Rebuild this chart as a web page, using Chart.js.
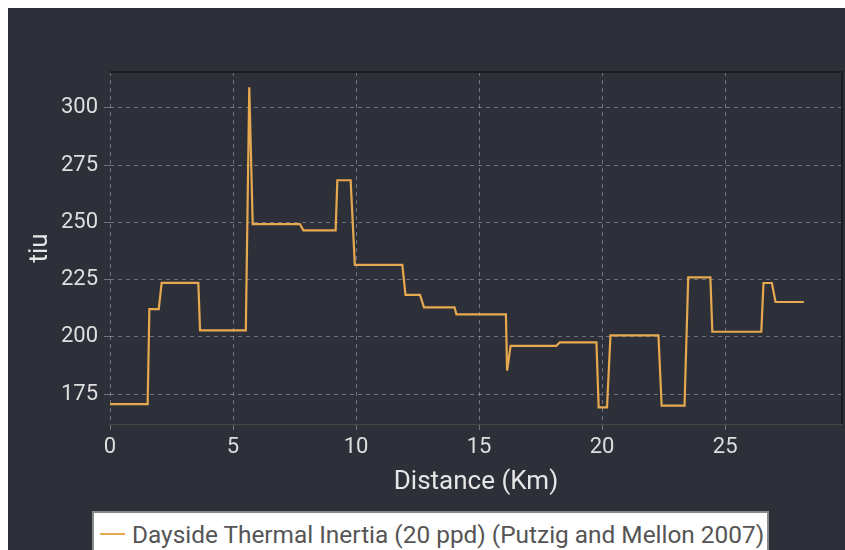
<!DOCTYPE html>
<html>
<head>
<meta charset="utf-8">
<script src="https://cdn.jsdelivr.net/npm/chart.js@4"></script>
<style>
  html, body { margin: 0; padding: 0; background: #ffffff; overflow: hidden; }
  #wrap { position: absolute; left: 8px; top: 8px; width: 837px; height: 542px; background: #2e3039; }
  #chart { position: absolute; left: 0; top: 0; }
  #legend {
    position: absolute; left: 84px; top: 503px; width: 677px; height: 50px;
    background: #ffffff; border: 2px solid #8a8a8a; box-sizing: border-box;
    font-family: Roboto, sans-serif; font-size: 24.4px; line-height: 28px; color: #555555;
    display: flex; align-items: flex-start; padding: 8px 0 0 6px; white-space: nowrap;
  }
  #legend .swatch { display: inline-block; width: 25px; height: 2px; margin: 12px 7px 0 0; }
</style>
</head>
<body>
<div id="wrap">
  <canvas id="chart" width="837" height="542"></canvas>
  <div id="legend"></div>
</div>
<script>
// Thermal inertia profile along the track
const distanceKm = [0, 1.53, 1.60, 1.98, 2.10, 3.59, 3.66, 5.52, 5.66, 5.80, 7.72, 7.86, 9.17, 9.24,
  9.78, 9.95, 11.88, 12.01, 12.60, 12.76, 14.00, 14.08, 16.09, 16.14, 16.28, 18.14, 18.28, 19.77,
  19.86, 20.20, 20.34, 22.29, 22.42, 23.35, 23.50, 24.40, 24.48, 26.47, 26.56, 26.90, 27.05, 28.20];
const thermalInertia = [170.6, 170.6, 212.1, 212.1, 223.6, 223.6, 202.8, 202.8, 309.0, 249.2, 249.2, 246.5, 246.5, 268.4,
  268.4, 231.4, 231.4, 218.3, 218.3, 212.9, 212.9, 209.8, 209.8, 185.2, 196.0, 196.0, 197.6, 197.6,
  169.2, 169.2, 200.6, 200.6, 169.9, 169.9, 226.0, 226.0, 202.2, 202.2, 223.5, 223.5, 215.2, 215.2];

const xTickValues = [0, 5, 10, 15, 20, 25];
const yTickValues = [175, 200, 225, 250, 275, 300];

const seriesLabel = 'Dayside Thermal Inertia (20 ppd) (Putzig and Mellon 2007)';
const lineColor = '#e6a94f';
const gridColor = 'rgba(170,172,180,0.55)';
const tickColor = '#dedede';
const fontFamily = 'Roboto, sans-serif';

// solid frame: dark on top and right, muted brown along the x axis
const frame = {
  id: 'frame',
  afterDraw(chart) {
    const { ctx, chartArea: a } = chart;
    ctx.save();
    ctx.strokeStyle = '#4a4540';
    ctx.lineWidth = 1;
    ctx.beginPath();
    ctx.moveTo(a.left, a.bottom + 0.5);
    ctx.lineTo(a.right, a.bottom + 0.5);
    ctx.stroke();
    ctx.strokeStyle = '#1d1e24';
    ctx.lineWidth = 2;
    ctx.beginPath();
    ctx.moveTo(a.left, a.top);
    ctx.lineTo(a.right, a.top);
    ctx.lineTo(a.right, a.bottom);
    ctx.stroke();
    ctx.restore();
  }
};

const chart = new Chart(document.getElementById('chart'), {
  type: 'line',
  data: {
    datasets: [{
      label: seriesLabel,
      data: distanceKm.map((d, i) => ({ x: d, y: thermalInertia[i] })),
      borderColor: lineColor,
      backgroundColor: lineColor,
      borderWidth: 2.2,
      pointRadius: 0,
      tension: 0,
      fill: false
    }]
  },
  options: {
    responsive: false,
    animation: false,
    layout: { padding: { left: 0, top: 64, right: 3, bottom: 48 } },
    plugins: { legend: { display: false }, tooltip: { enabled: false } },
    scales: {
      x: {
        type: 'linear',
        min: 0,
        max: 29.75,
        afterBuildTicks: s => { s.ticks = xTickValues.map(v => ({ value: v })); },
        afterFit: s => { s.height = 78; },
        ticks: { color: tickColor, font: { family: fontFamily, size: 22 }, padding: 4, maxRotation: 0 },
        grid: { color: gridColor, tickLength: 6 },
        border: { display: false, dash: [4, 4] },
        title: { display: true, text: 'Distance (Km)', color: '#e6e6e6', font: { family: fontFamily, size: 26 }, padding: { top: 4, bottom: 4 } }
      },
      y: {
        min: 161.9,
        max: 315.7,
        afterBuildTicks: s => { s.ticks = yTickValues.map(v => ({ value: v })); },
        afterFit: s => { s.width = 102; },
        ticks: { color: tickColor, font: { family: fontFamily, size: 22 }, padding: 6 },
        grid: { color: gridColor, tickLength: 6 },
        border: { display: false, dash: [4, 4] },
        title: { display: true, text: 'tiu', color: '#e6e6e6', font: { family: fontFamily, size: 26 }, padding: { top: 17, bottom: 4 } }
      }
    }
  },
  plugins: [frame]
});

// legend box built from the dataset
const legend = document.getElementById('legend');
chart.data.datasets.forEach(ds => {
  const sw = document.createElement('span');
  sw.className = 'swatch';
  sw.style.background = ds.borderColor;
  const txt = document.createElement('span');
  txt.textContent = ds.label;
  legend.appendChild(sw);
  legend.appendChild(txt);
});
</script>
</body>
</html>
